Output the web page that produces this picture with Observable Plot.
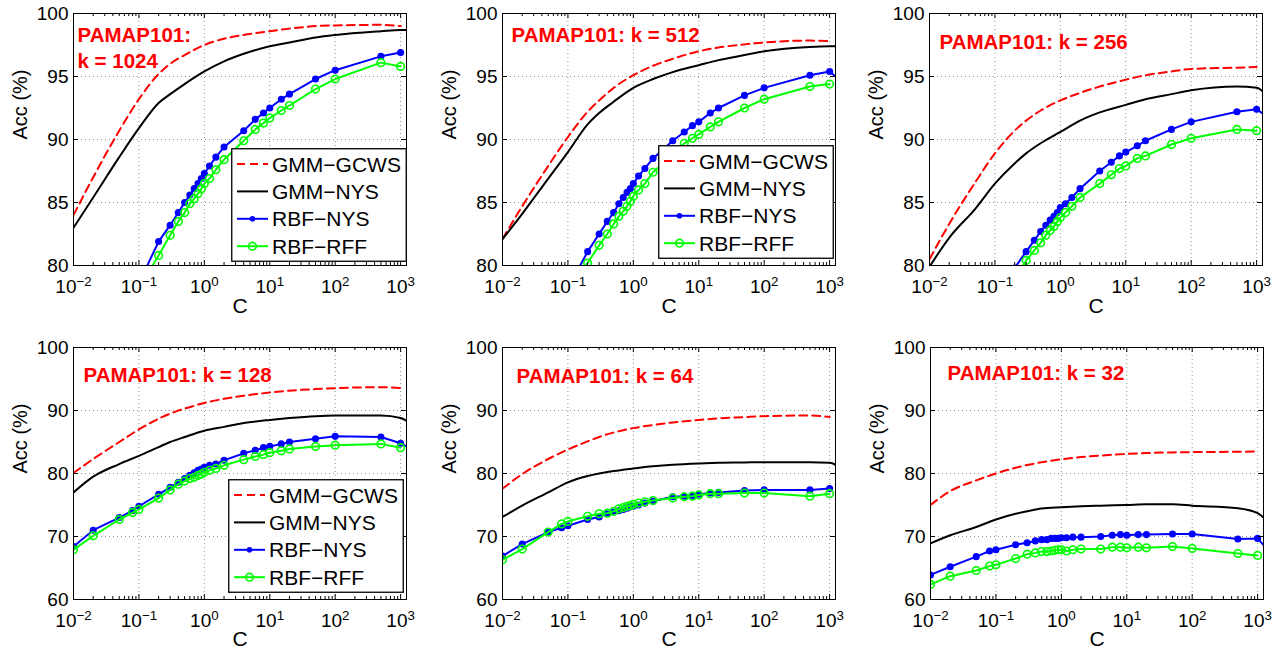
<!DOCTYPE html>
<html><head><meta charset="utf-8">
<script src="https://cdn.jsdelivr.net/npm/d3@7"></script>
<script src="https://cdn.jsdelivr.net/npm/@observablehq/plot@0.6"></script>
<style>
body{margin:0;background:#fff;}
#root{position:relative;width:1286px;height:654px;overflow:hidden;font-family:"Liberation Sans",Arial,sans-serif;}
#root svg{position:absolute;}
</style></head><body><div id="root"></div>
<script>
// ---------- data ----------
const seriesNames = ["GMM\u2212GCWS", "GMM\u2212NYS", "RBF\u2212NYS", "RBF\u2212RFF"];
const C = [0.01,0.02,0.05,0.08,0.1,0.2,0.3,0.4,0.5,0.6,0.7,0.8,0.9,1,1.2,1.5,2,4,6,8,10,15,20,50,100,500,1000,2000];
const gmmC = [0.01,0.02,0.05,0.1,0.2,0.3,0.5,1,2,4,10,20,50,100,500,1000,2000];
const xTicks = [0.01,0.1,1,10,100,1000];
const yTicksTop = [80,85,90,95,100];
const yTicksBottom = [60,70,80,90,100];

const gcws1024 = [84.0,87.0,90.7,93.2,95.2,96.0,96.7,97.5,98.0,98.3,98.6,98.8,99.0,99.05,99.1,99.0,null];
const gmmnys1024 = [83.0,85.4,88.6,90.9,92.9,93.6,94.4,95.4,96.2,96.8,97.4,97.7,98.1,98.3,98.6,98.7,98.7];
const rbfnys1024 = [62,66,72,76.5,78.6,81.9,83.2,84.2,85.0,85.6,86.1,86.5,86.9,87.3,87.9,88.6,89.4,90.7,91.6,92.1,92.5,93.2,93.6,94.8,95.5,96.6,96.9,null];
const rbfrff1024 = [61,65,71,76,78.2,80.8,82.4,83.5,84.2,84.9,85.3,85.7,86.1,86.5,86.9,87.6,88.4,89.9,90.8,91.3,91.7,92.3,92.7,94.0,94.8,96.1,95.8,null];

const gcws512 = [82.1,84.7,87.9,90.2,92.2,93.1,94.1,95.1,95.85,96.4,97.0,97.3,97.55,97.7,97.85,97.8,null];
const gmmnys512 = [82.1,84.1,86.9,89.0,91.2,92.1,93.0,94.1,94.8,95.35,95.9,96.3,96.7,97.0,97.35,97.4,97.4];
const rbfnys512 = [60,65,71,76,78.2,81.1,82.5,83.5,84.2,84.9,85.4,85.8,86.1,86.5,87.1,87.7,88.5,89.9,90.6,91.1,91.4,92.1,92.5,93.5,94.1,95.1,95.4,94.1];
const rbfrff512 = [60,65,71,76,78.5,80.2,81.6,82.5,83.3,83.9,84.3,84.7,85.1,85.5,86.0,86.5,87.4,88.8,89.7,90.1,90.4,91.0,91.4,92.5,93.2,94.2,94.4,null];

const gcws256 = [80.5,83.3,86.6,88.9,90.7,91.5,92.3,93.1,93.7,94.2,94.75,95.1,95.4,95.6,95.7,95.75,null];
const gmmnys256 = [79.9,82.2,84.5,86.5,88.1,88.9,89.7,90.6,91.5,92.15,92.75,93.2,93.6,93.9,94.2,94.1,92.2];
const rbfnys256 = [60,65,70,75,77.5,79.8,81.1,82.0,82.7,83.2,83.6,83.9,84.2,84.6,84.9,85.4,86.1,87.5,88.2,88.7,89.0,89.5,89.9,90.8,91.4,92.2,92.4,91.3];
const rbfrff256 = [59,64,69,74,76.8,78.9,80.4,81.2,81.8,82.4,82.8,83.1,83.5,83.8,84.2,84.7,85.4,86.5,87.2,87.7,87.9,88.5,88.7,89.6,90.1,90.8,90.7,null];

const gcws128 = [80.1,82.3,85.0,87.0,88.7,89.5,90.3,91.2,91.85,92.35,92.85,93.15,93.4,93.55,93.7,93.55,null];
const gmmnys128 = [77.0,79.5,81.5,82.8,84.2,85.0,85.8,86.8,87.4,88.0,88.5,88.8,89.1,89.2,89.2,88.8,86.5];
const rbfnys128 = [68.4,71.0,73.0,74.1,74.8,76.7,77.8,78.6,79.2,79.7,80.1,80.5,80.7,81.0,81.3,81.5,82.1,83.2,83.7,84.1,84.3,84.7,85.0,85.5,85.9,85.8,84.8,83.2];
const rbfrff128 = [67.9,70.1,72.7,73.8,74.3,76.1,77.4,78.3,78.8,79.2,79.4,79.7,79.9,80.2,80.5,80.8,81.3,82.2,82.7,83.0,83.3,83.6,83.9,84.3,84.5,84.7,84.1,null];

const gcws64 = [77.6,79.9,82.3,83.8,85.1,85.8,86.5,87.2,87.7,88.1,88.5,88.75,88.95,89.1,89.2,88.95,null];
const gmmnys64 = [73.1,74.9,77.0,78.6,79.6,80.0,80.4,80.8,81.15,81.4,81.6,81.7,81.75,81.8,81.8,81.7,79.4];
const rbfnys64 = [66.9,68.8,70.7,71.4,71.7,72.7,73.1,73.6,73.9,74.1,74.3,74.5,74.7,74.8,75.0,75.3,75.6,76.3,76.4,76.5,76.7,76.9,77.0,77.3,77.4,77.4,77.6,null];
const rbfrff64 = [66.3,68.0,70.7,72.0,72.4,73.2,73.6,73.7,74.0,74.4,74.6,74.8,74.9,75.1,75.3,75.5,75.7,76.1,76.3,76.4,76.6,76.8,76.8,76.9,76.9,76.4,76.8,null];

const gcws32 = [75.0,77.2,78.9,80.0,80.9,81.35,81.8,82.25,82.6,82.85,83.1,83.25,83.35,83.4,83.45,83.5,null];
const gmmnys32 = [68.9,70.2,71.5,72.7,73.6,74.0,74.45,74.65,74.8,74.9,75.0,75.1,75.1,74.9,74.5,73.7,70.8];
const rbfnys32 = [63.9,65.2,66.8,67.7,67.9,68.7,69.0,69.3,69.5,69.5,69.7,69.7,69.7,69.8,69.8,69.9,69.9,70.0,70.2,70.3,70.2,70.3,70.3,70.4,70.4,69.6,69.7,66.2];
const rbfrff32 = [62.4,63.7,64.6,65.3,65.5,66.5,67.2,67.4,67.6,67.6,67.7,67.8,67.9,67.9,67.7,67.9,68.0,68.0,68.3,68.3,68.2,68.3,68.2,68.4,68.1,67.3,67.0,null];

const titles = ["PAMAP101:\nk = 1024","PAMAP101: k = 512","PAMAP101: k = 256","PAMAP101: k = 128","PAMAP101: k = 64","PAMAP101: k = 32"];

// ---------- layout ----------
const panels = [
  {title: titles[0], gcws: gcws1024, nys: gmmnys1024, rnys: rbfnys1024, rrff: rbfrff1024, left: 0,   top: 0,   top80: true,  tdx: 4,  tdy: 10, legend: [231,148]},
  {title: titles[1], gcws: gcws512,  nys: gmmnys512,  rnys: rbfnys512,  rrff: rbfrff512,  left: 429, top: 0,   top80: true,  tdx: 9,  tdy: 10, legend: [658,145]},
  {title: titles[2], gcws: gcws256,  nys: gmmnys256,  rnys: rbfnys256,  rrff: rbfrff256,  left: 856, top: 0,   top80: true,  tdx: 10, tdy: 17, legend: null},
  {title: titles[3], gcws: gcws128,  nys: gmmnys128,  rnys: rbfnys128,  rrff: rbfrff128,  left: 0,   top: 334, top80: false, tdx: 10, tdy: 16, legend: [228,479]},
  {title: titles[4], gcws: gcws64,   nys: gmmnys64,   rnys: rbfnys64,   rrff: rbfrff64,   left: 429, top: 334, top80: false, tdx: 14, tdy: 17, legend: null},
  {title: titles[5], gcws: gcws32,   nys: gmmnys32,   rnys: rbfnys32,   rrff: rbfrff32,   left: 857, top: 334, top80: false, tdx: 17, tdy: 14, legend: null}
];

const W = 333, H = 252;
const minorTicks = [];
for (const d of [0.01,0.1,1,10,100]) for (let m = 2; m <= 9; m++) minorTicks.push(+(d*m).toPrecision(3));

const RED = "#ff0000", BLUE = "#0000ff", GREEN = "#00ff00";
const root = document.getElementById("root");

function makePanel(p) {
  const yDomain = p.top80 ? [80,100] : [60,100];
  const yTicks = p.top80 ? yTicksTop : yTicksBottom;
  const rbf = C.map((c,i) => ({c, nys: p.rnys[i], rff: p.rrff[i]}));
  const gmm = gmmC.map((c,i) => ({c, gcws: p.gcws[i], nys: p.nys[i]}));
  const grid = {stroke: "#000", strokeOpacity: 0.55, strokeWidth: 0.8, strokeDasharray: "1,3"};
  const plot = Plot.plot({
    width: 430, height: 320,
    marginLeft: 73, marginRight: 24, marginTop: 13, marginBottom: 55,
    style: {fontFamily: "'Liberation Sans', Arial, sans-serif", fontSize: "19px", color: "#000", background: "transparent", overflow: "visible"},
    x: {type: "log", domain: [0.01, 1230], ticks: xTicks, tickFormat: d => "10^" + Math.round(Math.log10(d)), tickSize: 0, tickPadding: 14, label: null},
    y: {domain: yDomain, ticks: yTicks, tickSize: 0, tickPadding: 5, label: null},
    marks: [
      Plot.ruleX(xTicks.slice(1), {x: d => d, ...grid}),
      Plot.ruleY(yTicks.slice(1, -1), {y: d => d, ...grid}),
      Plot.line(gmm.filter(d => d.gcws != null), {x: "c", y: "gcws", stroke: RED, strokeWidth: 2, strokeDasharray: "8,5", curve: "monotone-x", clip: true}),
      Plot.line(gmm, {x: "c", y: "nys", stroke: "#000", strokeWidth: 2, curve: "monotone-x", clip: true}),
      Plot.line(rbf.filter(d => d.nys != null), {x: "c", y: "nys", stroke: BLUE, strokeWidth: 2, clip: true}),
      Plot.dot(rbf.filter(d => d.nys != null), {x: "c", y: "nys", fill: BLUE, stroke: BLUE, r: 2.8, clip: true}),
      Plot.line(rbf.filter(d => d.rff != null), {x: "c", y: "rff", stroke: GREEN, strokeWidth: 2, clip: true}),
      Plot.dot(rbf.filter(d => d.rff != null), {x: "c", y: "rff", fill: "none", stroke: GREEN, strokeWidth: 1.6, r: 3.8, clip: true}),
      Plot.frame({stroke: "#000", strokeWidth: 1}),
      Plot.tickX(xTicks, {x: d => d, insetTop: H - 5, stroke: "#000"}),
      Plot.tickX(xTicks, {x: d => d, insetBottom: H - 5, stroke: "#000"}),
      Plot.tickX(minorTicks, {x: d => d, insetTop: H - 3, stroke: "#000"}),
      Plot.tickX(minorTicks, {x: d => d, insetBottom: H - 3, stroke: "#000"}),
      Plot.tickY(yTicks, {y: d => d, insetRight: W - 5, stroke: "#000"}),
      Plot.tickY(yTicks, {y: d => d, insetLeft: W - 5, stroke: "#000"}),
      Plot.text([p.title], {text: d => d, frameAnchor: "top-left", dx: p.tdx, dy: p.tdy, lineAnchor: "top", textAnchor: "start", fill: RED, fontWeight: "bold", fontSize: 20.5, lineHeight: 1.27}),
      Plot.text(["C"], {text: d => d, frameAnchor: "bottom", dy: p.top80 ? 47 : 46, fontSize: 21, fill: "#000"}),
      Plot.text(["Acc (%)"], {text: d => d, frameAnchor: "left", dx: -53, rotate: -90, fontSize: 20, fill: "#000"})
    ]
  });
  // superscript exponents on the x tick labels
  d3.select(plot).selectAll("text").each(function() {
    const m = /^10\^(-?\d+)$/.exec(this.textContent);
    if (!m) return;
    const s = d3.select(this);
    s.text(null);
    s.append("tspan").text("10");
    s.append("tspan").attr("dy", "-0.55em").attr("font-size", "0.7em").text(m[1].replace("-", "\u2212"));
  });
  d3.select(plot).style("left", p.left + "px").style("top", p.top + "px");
  root.appendChild(plot);
  if (p.legend) makeLegend(p.legend[0], p.legend[1]);
}

function makeLegend(left, top) {
  const w = 176, h = 114;
  const svg = d3.create("svg").attr("width", w).attr("height", h)
    .style("left", left + "px").style("top", top + "px");
  svg.append("rect").attr("x", 0.75).attr("y", 0.75).attr("width", w - 1.5).attr("height", h - 1.5)
    .attr("fill", "#fff").attr("stroke", "#000").attr("stroke-width", 1.3);
  const styles = [
    {color: RED, dash: "8,5", marker: null},
    {color: "#000", dash: null, marker: null},
    {color: BLUE, dash: null, marker: "dot"},
    {color: GREEN, dash: null, marker: "circle"}
  ];
  seriesNames.forEach((name, i) => {
    const cy = 16 + i * 27.4;
    const st = styles[i];
    svg.append("line").attr("x1", 6).attr("x2", 37).attr("y1", cy).attr("y2", cy)
      .attr("stroke", st.color).attr("stroke-width", 2).attr("stroke-dasharray", st.dash);
    if (st.marker === "dot") svg.append("circle").attr("cx", 21.5).attr("cy", cy).attr("r", 2.8).attr("fill", st.color);
    if (st.marker === "circle") svg.append("circle").attr("cx", 21.5).attr("cy", cy).attr("r", 3.8).attr("fill", "none").attr("stroke", st.color).attr("stroke-width", 1.6);
    svg.append("text").attr("x", 41).attr("y", cy).attr("dy", "0.36em")
      .attr("font-family", "'Liberation Sans', Arial, sans-serif").attr("font-size", 21).attr("fill", "#000").text(name);
  });
  root.appendChild(svg.node());
}

panels.forEach(makePanel);
</script>
</body></html>
